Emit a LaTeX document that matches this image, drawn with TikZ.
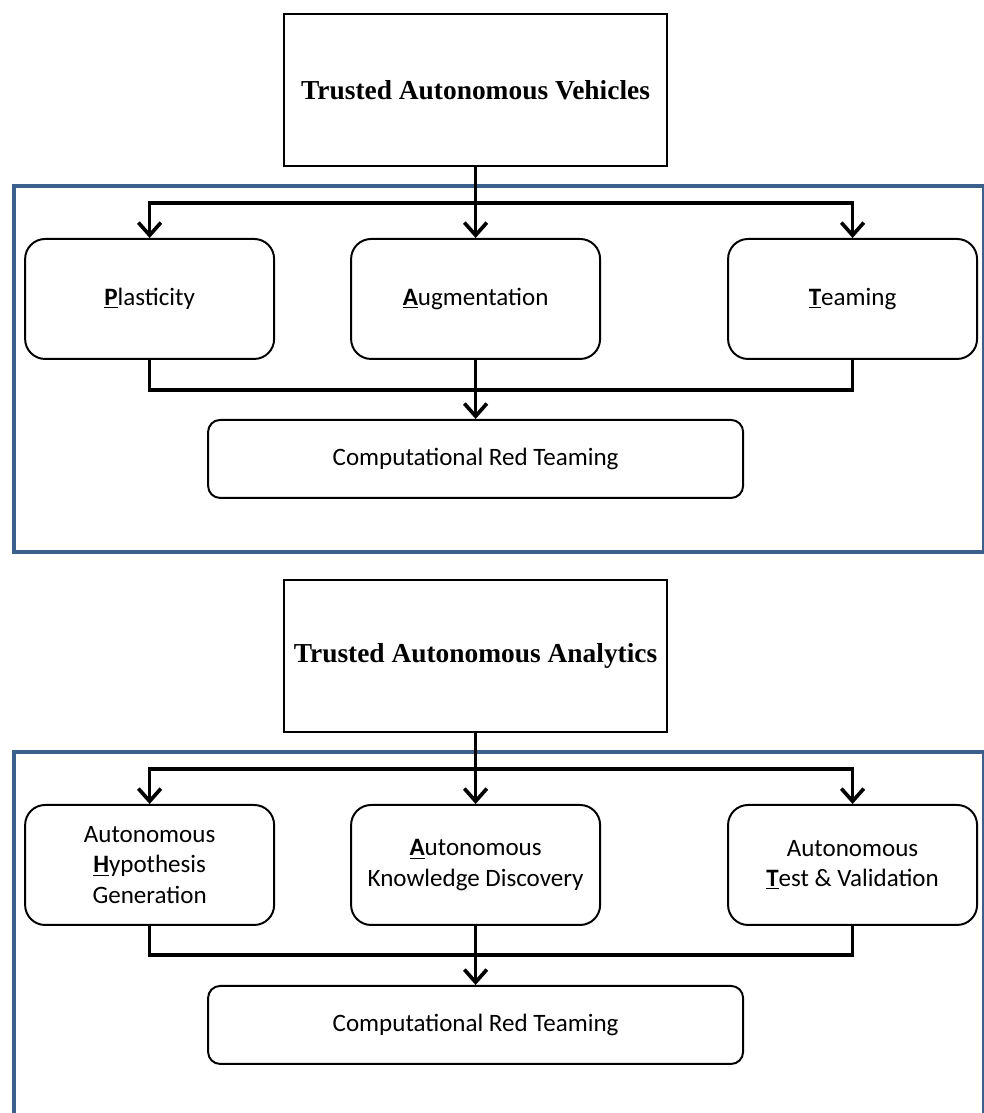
\documentclass[tikz,border=0pt]{standalone}
\usepackage{fontspec}
\setmainfont{Liberation Serif}
\newfontfamily\boxfont{Carlito}
\usetikzlibrary{
    arrows.meta,    % For arrow styles
    positioning     % For relative positioning of nodes
}
\definecolor{framecol}{RGB}{60,96,140}
\tikzset{
    % Style for the two title boxes
    title/.style={
        draw,
        line width=1.4pt,
        rectangle,
        minimum width=9.575cm,
        minimum height=3.8cm,
        align=center,
        font=\fontsize{19.5}{23}\selectfont\bfseries
    },
    % Style for the three capability boxes
    item/.style={
        draw,
        line width=1.4pt,
        rectangle,
        rounded corners=0.5cm,
        minimum width=6.225cm,
        minimum height=3cm,
        align=center,
        font=\boxfont\fontsize{17.8}{21.5}\selectfont
    },
    % Style for the red teaming boxes
    redteam/.style={
        item,
        rounded corners=0.3cm,
        minimum width=13.375cm,
        minimum height=1.95cm
    },
    % Style for the blue frames
    frame/.style={
        draw=framecol,
        line width=3.2pt
    },
    % Style for the connecting lines and arrows
    link/.style={
        line width=2.6pt
    },
    arrow/.style={
        link,
        -{Straight Barb[length=9pt,width=16pt]}
    }
}
\newcommand{\ul}[1]{\underline{\textbf{#1}}}

\begin{document}
\begin{tikzpicture}
    \clip (0,0) rectangle (24.6,-27.825);

    % --- Blue frames ---
    \draw[frame] (0.35,-4.65) rectangle (24.61,-13.8);
    \draw[frame] (0.35,-18.8) rectangle (24.61,-28.5);

    % --- Top diagram: vehicles ---
    \node (tav)   [title] at (11.89,-2.25) {Trusted Autonomous Vehicles};
    \node (aug1)  [item, below=1.775cm of tav] {\ul{A}ugmentation};
    \node (plas)  [item, left=1.875cm of aug1] {\ul{P}lasticity};
    \node (team)  [item, right=3.15cm of aug1]  {\ul{T}eaming};
    \node (crt1)  [redteam, below=1.475cm of aug1] {Computational Red Teaming};
    % Arrows
    \draw[arrow] (tav.south) -- (aug1.north);
    \draw[arrow] (tav.south) -- ++(0,-0.9) -| (plas.north);
    \draw[arrow] (tav.south) -- ++(0,-0.9) -| (team.north);
    \draw[link]  (plas.south) -- ++(0,-0.75) -| (team.south);
    \draw[arrow] (aug1.south) -- (crt1.north);

    % --- Bottom diagram: analytics ---
    \node (taa)   [title] at (11.89,-16.4) {Trusted Autonomous Analytics};
    \node (akd)   [item, below=1.775cm of taa] {\ul{A}utonomous\\Knowledge Discovery};
    \node (ahg)   [item, left=1.875cm of akd]  {Autonomous\\\ul{H}ypothesis\\Generation};
    \node (atv)   [item, right=3.15cm of akd]   {Autonomous\\\ul{T}est \& Validation};
    \node (crt2)  [redteam, below=1.475cm of akd] {Computational Red Teaming};
    % Arrows
    \draw[arrow] (taa.south) -- (akd.north);
    \draw[arrow] (taa.south) -- ++(0,-0.9) -| (ahg.north);
    \draw[arrow] (taa.south) -- ++(0,-0.9) -| (atv.north);
    \draw[link]  (ahg.south) -- ++(0,-0.725) -| (atv.south);
    \draw[arrow] (akd.south) -- (crt2.north);

\end{tikzpicture}
\end{document}
